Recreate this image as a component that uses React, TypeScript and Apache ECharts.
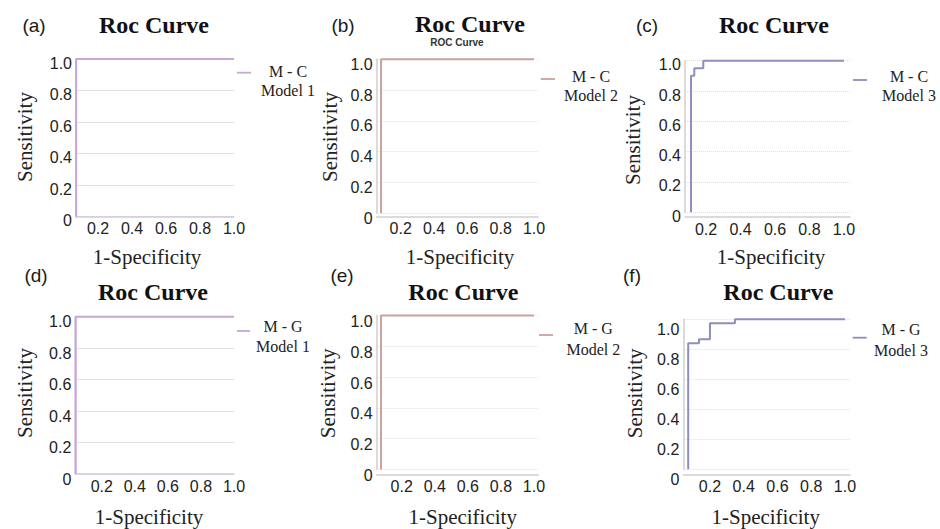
import React, { useEffect, useRef } from 'react';
import * as echarts from 'echarts';

// ---------- data ----------
const panelLetters = ['(a)', '(b)', '(c)', '(d)', '(e)', '(f)'];
const chartTitle = 'Roc Curve';
const subTitleB = 'ROC Curve';
const legendGroups = ['M - C', 'M - C', 'M - C', 'M - G', 'M - G', 'M - G'];
const legendModels = ['Model 1', 'Model 2', 'Model 3', 'Model 1', 'Model 2', 'Model 3'];
const xAxisName = '1-Specificity';
const yAxisName = 'Sensitivity';
const yTickValues = [0, 0.2, 0.4, 0.6, 0.8, 1.0];
const yTickLabels = ['0', '0.2', '0.4', '0.6', '0.8', '1.0'];
const xTickValues = [0.2, 0.4, 0.6, 0.8, 1.0];
const xTickLabels = ['0.2', '0.4', '0.6', '0.8', '1.0'];

// ROC operating points: [1-specificity, sensitivity]
const rocMC1 = [[0.071, 0], [0.071, 1], [1, 1]];
const rocMC2 = [[0.082, 0], [0.082, 1], [1, 1]];
const rocMC3 = [[0.113, 0], [0.113, 0.9], [0.132, 0.95], [0.184, 1], [1, 1]];
const rocMG1 = [[0.041, 0], [0.041, 1], [1, 1]];
const rocMG2 = [[0.075, 0], [0.075, 1], [1, 1]];
const rocMG3 = [[0.071, 0], [0.071, 0.84], [0.135, 0.867], [0.2, 0.973], [0.348, 1], [1, 1]];
const rocData = [rocMC1, rocMC2, rocMC3, rocMG1, rocMG2, rocMG3];

// ---------- styles / layout ----------
const LAV = '#c7a6d8';
const ROSE = '#c9a29f';
const SLATE = '#8d8ebf';
const SERIF = '"Liberation Serif", "Times New Roman", serif';
const SANS = '"Liberation Sans", Arial, sans-serif';

const layouts = [
  { L: 76, T: 59, R: 234, B: 216.5, xMin: 0.07, xMax: 1.0, off: 0, shift: 4, gType: 'solid', color: LAV, axisColor: '#d6c8de',
    letter: [34, 25], title: [154, 25], yName: [25, 137], xName: [147, 257], leg: [237, 251, 72.7], legText: [288, 71, 90] },
  { L: 376.7, T: 59.3, R: 538, B: 213.3, xMin: 0.056, xMax: 1.024, off: 3, shift: 5, gType: 'dotted', color: ROSE, axisColor: '#cfcfcf',
    letter: [343, 25], title: [470, 24], yName: [330, 137], xName: [460, 257], leg: [540.7, 555, 79], legText: [591, 76, 95] },
  { L: 685, T: 60.7, R: 850, B: 212.2, xMin: 0.078, xMax: 1.035, off: 5, shift: 4, gType: 'dotted', color: SLATE, axisColor: '#cfcfcf',
    letter: [647, 25], title: [774, 25], yName: [633, 140], xName: [771, 257], leg: [853, 867, 80], legText: [909, 76, 95] },
  { L: 75.3, T: 316.7, R: 234, B: 474, xMin: 0.04, xMax: 1.0, off: 0, shift: 5, gType: 'solid', color: LAV, axisColor: '#d6c8de',
    letter: [36, 275], title: [153, 292], yName: [25, 393], xName: [149, 516.7], leg: [237, 250, 331], legText: [283, 326.7, 346.7] },
  { L: 376.7, T: 315.5, R: 538.3, B: 469.5, xMin: 0.049, xMax: 1.026, off: 5, shift: 6, gType: 'dotted', color: ROSE, axisColor: '#cfcfcf',
    letter: [342, 275], title: [463.3, 292], yName: [328.3, 393.3], xName: [462.7, 516.7], leg: [539, 553, 335], legText: [593.3, 328.3, 349] },
  { L: 683.3, T: 319.3, R: 850, B: 469.3, xMin: 0.042, xMax: 1.03, off: 5, shift: 10, gType: 'dotted', color: SLATE, axisColor: '#cfcfcf',
    letter: [632, 275], title: [778.3, 291.7], yName: [635, 393.3], xName: [765.7, 516.7], leg: [852.7, 866.7, 337.7], legText: [901, 329, 350] },
];

function txt(x: number, y: number, text: string, fontSize: number, fontFamily: string, fontWeight = 'normal', extra: any = {}, fill = '#1a1a1a') {
  return {
    type: 'text', x, y, silent: true, ...extra,
    style: {
      text, fontSize, fontFamily, fontWeight, fill,
      align: 'center', verticalAlign: 'middle', textAlign: 'center', textVerticalAlign: 'middle',
    },
  };
}

function xLabel(v: number) {
  const k = xTickValues.findIndex((t) => Math.abs(t - v) < 1e-6);
  return k >= 0 ? xTickLabels[k] : '';
}
function yLabel(v: number) {
  const k = yTickValues.findIndex((t) => Math.abs(t - v) < 1e-6);
  return k >= 0 ? yTickLabels[k] : '';
}

function buildOption() {
  const grid: any[] = [];
  const xAxis: any[] = [];
  const yAxis: any[] = [];
  const series: any[] = [];
  const graphic: any[] = [];

  layouts.forEach((p, i) => {
    grid.push({ left: p.L, top: p.T, width: p.R - p.L, height: p.B - p.T, containLabel: false });
    xAxis.push({
      type: 'value', gridIndex: i, min: p.xMin, max: p.xMax, offset: p.off,
      axisLine: { show: true, onZero: false, lineStyle: { color: p.axisColor, width: 1.5 } },
      axisTick: { show: false },
      splitLine: { show: false },
      axisLabel: {
        customValues: xTickValues, formatter: xLabel, margin: 4,
        fontSize: 16, fontFamily: SANS, color: '#222',
      },
    });
    yAxis.push({
      type: 'value', gridIndex: i, min: 0, max: 1, interval: 0.2,
      axisLine: { show: true, onZero: false, lineStyle: { color: p.axisColor, width: 1.5 } },
      axisTick: { show: false },
      splitLine: { show: true, lineStyle: { color: '#e0e0e0', type: p.gType, width: 1 } },
      axisLabel: {
        formatter: yLabel, margin: 4, verticalAlign: 'top', lineHeight: p.shift * 2,
        fontSize: 16, fontFamily: SANS, color: '#222',
      },
    });
    series.push({
      type: 'line', name: legendGroups[i] + ' ' + legendModels[i],
      xAxisIndex: i, yAxisIndex: i, data: rocData[i], step: 'end',
      symbol: 'none', showSymbol: false, clip: false, silent: true,
      lineStyle: { color: p.color, width: 2 },
    });

    graphic.push(txt(p.letter[0], p.letter[1], panelLetters[i], 19, SANS));
    graphic.push(txt(p.title[0], p.title[1], chartTitle, 24, SERIF, 'bold', {}, '#111'));
    graphic.push(txt(p.yName[0], p.yName[1], yAxisName, 21, SERIF, 'normal', { rotation: Math.PI / 2 }, '#222'));
    graphic.push(txt(p.xName[0], p.xName[1], xAxisName, 21, SERIF, 'normal', {}, '#222'));
    graphic.push({
      type: 'line', silent: true,
      shape: { x1: p.leg[0], y1: p.leg[2], x2: p.leg[1], y2: p.leg[2] },
      style: { stroke: p.color, lineWidth: 1.8 },
    });
    graphic.push(txt(p.legText[0], p.legText[1], legendGroups[i], 16, SERIF, 'normal', {}, '#222'));
    graphic.push(txt(p.legText[0], p.legText[2], legendModels[i], 16, SERIF, 'normal', {}, '#222'));
  });

  graphic.push(txt(457, 42, subTitleB, 10, SANS, 'bold', {}, '#333'));

  return {
    animation: false,
    backgroundColor: '#ffffff',
    grid, xAxis, yAxis, series, graphic,
  };
}

export default function App() {
  const ref = useRef<HTMLDivElement>(null);
  useEffect(() => {
    if (!ref.current) return;
    const chart = echarts.init(ref.current, null, { renderer: 'svg' });
    chart.setOption(buildOption() as any);
    return () => chart.dispose();
  }, []);
  return (
    <div
      ref={ref}
      style={{ position: 'absolute', left: 0, top: 0, width: 940, height: 529, background: '#fff' }}
    />
  );
}
